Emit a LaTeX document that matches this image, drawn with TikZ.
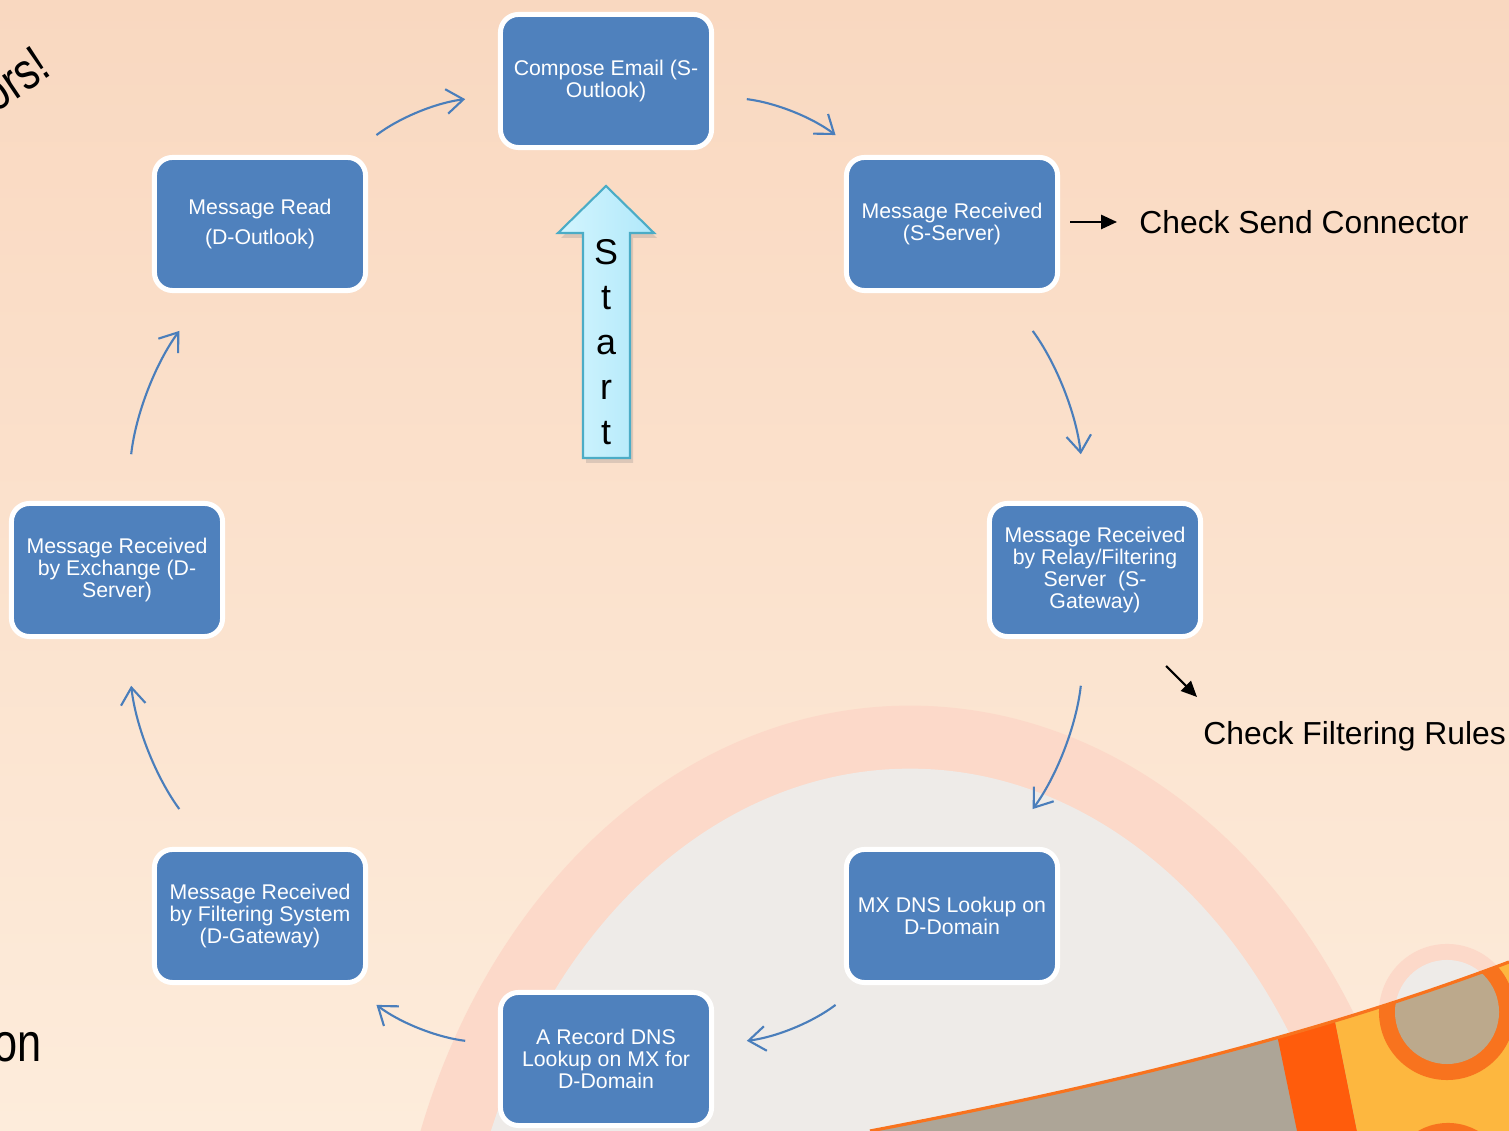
\documentclass[tikz,border=0pt]{standalone}
\usepackage{fontspec}
\setmainfont{Liberation Sans}
\newfontfamily\slidefont{Liberation Sans}[FakeStretch=0.8]
\usetikzlibrary{positioning,shapes,arrows.meta,calc,shadows}

\definecolor{slidetop}{HTML}{F9D8C0}
\definecolor{slidemid}{HTML}{FCE1CA}
\definecolor{slidebottom}{HTML}{FDECDB}
\definecolor{ringpink}{HTML}{FCD9C9}
\definecolor{diskgrey}{HTML}{EEEBE8}
\definecolor{stonegrey}{HTML}{ADA597}
\definecolor{sunorange}{HTML}{FF5C0C}
\definecolor{sunyellow}{HTML}{FDB73F}
\definecolor{ringorange}{HTML}{F8731E}
\definecolor{ringtan}{HTML}{BCA98C}
\definecolor{boxblue}{HTML}{4F81BD}
\definecolor{flowblue}{HTML}{4A7EBB}
\definecolor{startedge}{HTML}{4BACC6}
\definecolor{startleft}{HTML}{D3F5FE}
\definecolor{startright}{HTML}{B0E8FA}

\begin{document}
\begin{tikzpicture}[x=0.01cm,y=0.01cm,
    stepbox/.style={draw=white, line width=1.42pt, fill=boxblue, rounded corners=0.18cm,
      minimum width=2.11cm, minimum height=1.33cm, inner sep=0pt, text=white,
      align=center, font=\fontsize{6.05}{6.26}\selectfont},
    flow/.style={draw=flowblue, line width=0.6pt, -{Straight Barb[length=4.8pt,width=7pt]},
      shorten <=0.33cm, shorten >=0.33cm},
    flowlong/.style={flow, shorten <=0.47cm, shorten >=0.47cm},
    notearrow/.style={draw=black, line width=0.6pt, -{Triangle[length=4.5pt,width=4pt]}},
    notetext/.style={font=\fontsize{9.05}{11}\selectfont},
    startarrow/.style={draw=startedge, line width=0.6pt, left color=startleft, right color=startright,
      drop shadow={opacity=0.25, shadow xshift=0.03cm, shadow yshift=-0.05cm}}]

  \useasboundingbox (0,0) rectangle (1509,1131);
  \clip (0,0) rectangle (1509,1131);

  % slide background
  \shade[top color=slidetop, middle color=slidemid, bottom color=slidebottom] (0,0) rectangle (1509,1131);
  \fill[ringpink] (910,-219) ellipse [x radius=5.2cm, y radius=6.44cm];
  \fill[diskgrey] (910,-219) ellipse [x radius=4.52cm, y radius=5.81cm];
  \fill[ringpink] (1447,119) circle [radius=0.68cm];
  \fill[diskgrey] (1447,119) circle [radius=0.52cm];
  \begin{scope}
    \clip (870,0) .. controls (1080,40) and (1300,90) .. (1509,169) -- (1509,0) -- cycle;
    \fill[stonegrey] (860,0) rectangle (1509,200);
    \fill[sunorange] (1270,130) -- (1331,130) -- (1357,0) -- (1297,0) -- cycle;
    \fill[sunyellow] (1331,130) -- (1509,200) -- (1509,0) -- (1357,0) -- cycle;
    \fill[ringorange] (1447,119) circle [radius=0.68cm];
    \fill[ringtan] (1447,119) circle [radius=0.52cm];
    \fill[ringorange] (1448,-52) circle [radius=0.6cm];
  \end{scope}
  \draw[ringorange, line width=0.9pt] (870,0) .. controls (1080,40) and (1300,90) .. (1509,169);

  % leftovers of the slide text
  \node[font=\slidefont\fontsize{14.8}{17}\selectfont, rotate=34, anchor=base east, inner sep=0pt] (cornertop) at (54,1057) {ors!};
  \node[font=\slidefont\fontsize{15.4}{18}\selectfont, anchor=base east, inner sep=0pt] (cornerbottom) at (42,69) {on};

  % the cycle
  \node[stepbox] (compose) at (606,1050) {Compose Email (S-\\Outlook)};
  \node[stepbox] (ssrv) at (952,907) {Message Received\\(S-Server)};
  \node[stepbox] (relay) at (1095,561) {Message Received\\by Relay/Filtering\\Server~ (S-\\Gateway)};
  \node[stepbox] (mxdns) at (952,215) {MX DNS Lookup on\\D-Domain};
  \node[stepbox] (arec) at (606,72) {A Record DNS\\Lookup on MX for\\D-Domain};
  \node[stepbox] (dgw) at (260,215) {Message Received\\by Filtering System\\(D-Gateway)};
  \node[stepbox] (dsrv) at (117,561) {Message Received\\by Exchange (D-\\Server)};
  \node[stepbox] (dread) at (260,907) {Message Read\\[2.3pt](D-Outlook)};

  \draw[flow] (dread) to[bend left=15] (compose);
  \draw[flow] (compose) to[bend left=15] (ssrv);
  \draw[flowlong] (ssrv) to[bend left=15] (relay);
  \draw[flowlong] (relay) to[bend left=15] (mxdns);
  \draw[flow] (mxdns) to[bend left=15] (arec);
  \draw[flow] (arec) to[bend left=15] (dgw);
  \draw[flowlong] (dgw) to[bend left=15] (dsrv);
  \draw[flowlong] (dsrv) to[bend left=15] (dread);

  % start arrow
  \draw[startarrow] (606,945) -- (654,898) -- (630,898) -- (630,673) -- (583,673) -- (583,898) -- (558,898) -- cycle;
  \node[font=\fontsize{10.2}{12.8}\selectfont, align=center, inner sep=0pt] (start) at (606,789) {S\\t\\a\\r\\t};

  % notes
  \node[notetext, anchor=west] (sendnote) at (1127,909) {Check Send Connector};
  \draw[notearrow, shorten <=0.1cm, shorten >=0.1cm] (ssrv.east |- sendnote.west) -- (sendnote.west);
  \node[notetext, anchor=base west] (filternote) at (1191,386) {Check Filtering Rules};
  \coordinate (filtertail) at (1166,465);
  \draw[notearrow] (filtertail) -- ++(31,-31);
\end{tikzpicture}
\end{document}
